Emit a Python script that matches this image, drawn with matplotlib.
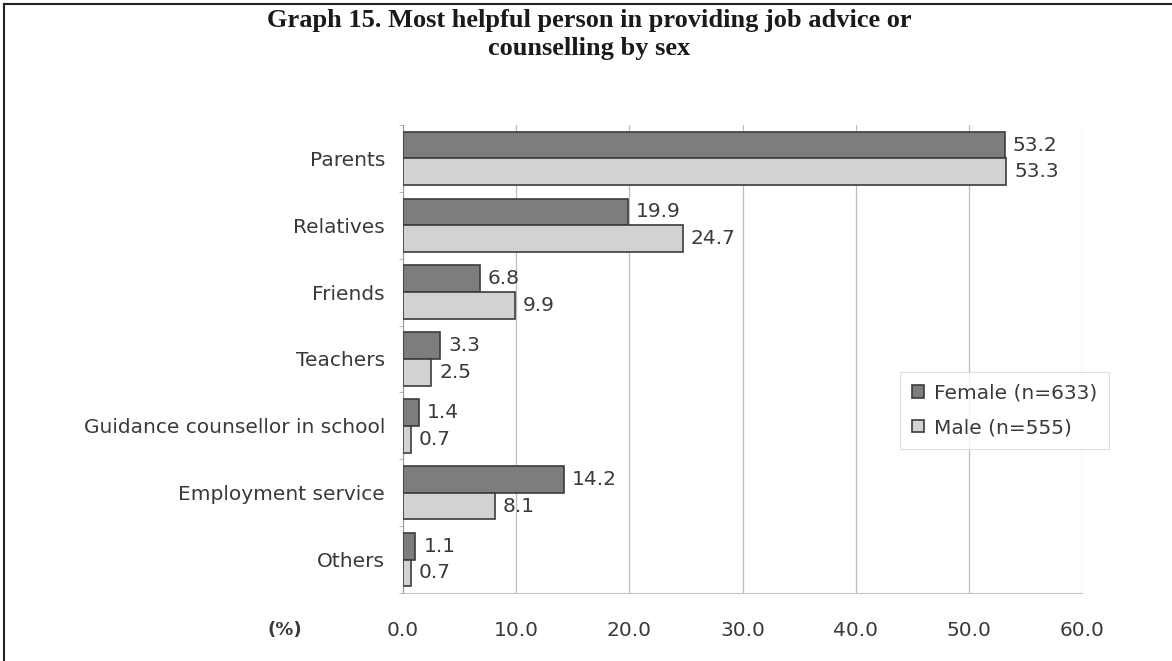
import numpy as np
import matplotlib.pyplot as plt
from matplotlib.lines import Line2D

categories = ['Parents', 'Relatives', 'Friends', 'Teachers',
              'Guidance counsellor in school', 'Employment service', 'Others']
female = [53.2, 19.9, 6.8, 3.3, 1.4, 14.2, 1.1]
male = [53.3, 24.7, 9.9, 2.5, 0.7, 8.1, 0.7]
series_names = ['Female (n=633)', 'Male (n=555)']
x_ticks = [0, 10, 20, 30, 40, 50, 60]

plt.rcParams['font.family'] = ['DejaVu Sans']
TEXT = '#3a3a3a'
FS = 14.5

fig = plt.figure(figsize=(11.72, 6.61), dpi=100)
ax = fig.add_axes([0.3439, 0.1029, 0.5793, 0.708])

y = np.arange(len(categories))
h = 0.4
b1 = ax.barh(y - h / 2, female, height=h, color='#7d7d7d', edgecolor='#3c3c3c',
             linewidth=1.2, label=series_names[0], zorder=3)
b2 = ax.barh(y + h / 2, male, height=h, color='#d2d2d2', edgecolor='#3c3c3c',
             linewidth=1.2, label=series_names[1], zorder=3)

for bars, vals in ((b1, female), (b2, male)):
    for bar, v in zip(bars, vals):
        ax.text(v + 0.7, bar.get_y() + bar.get_height() / 2, f'{v:.1f}',
                va='center', ha='left', fontsize=FS, color=TEXT)

ax.set_xlim(0, 60)
ax.set_ylim(len(categories) - 0.5, -0.5)
ax.set_xticks(x_ticks)
ax.set_xticklabels([f'{t:.1f}' for t in x_ticks], fontsize=FS, color=TEXT)
ax.set_yticks(y)
ax.set_yticklabels(categories, fontsize=FS, color=TEXT)
ax.set_yticks(np.arange(len(categories) + 1) - 0.5, minor=True)
ax.tick_params(axis='y', which='major', length=0, pad=13)
ax.tick_params(axis='y', which='minor', length=3, color='#aaaaaa')
ax.tick_params(axis='x', length=0, pad=20)

ax.grid(axis='x', color='#bdbdbd', linewidth=0.9, zorder=0)
for side in ('top', 'right'):
    ax.spines[side].set_visible(False)
ax.spines['left'].set_color('#9a9a9a')
ax.spines['bottom'].set_color('#c4c4c4')

fig.text(285 / 1172, 1 - 630 / 661, '(%)', fontsize=13, fontweight='bold',
         color=TEXT, ha='center', va='center')

leg = ax.legend(loc='upper left', bbox_to_anchor=(0.717, 0.494), fontsize=FS,
                frameon=True, fancybox=False, handlelength=0.6, handleheight=0.6,
                handletextpad=0.5, labelspacing=0.75, borderpad=0.6)
leg.get_frame().set_edgecolor('#d8d8d8')
leg.get_frame().set_linewidth(0.8)
for t in leg.get_texts():
    t.set_color(TEXT)

fig.text(0.503, 1 - 21 / 661, 'Graph 15. Most helpful person in providing job advice or',
         family='Liberation Serif', fontweight='bold', fontsize=19,
         ha='center', va='center', color='#1a1a1a')
fig.text(0.503, 1 - 48 / 661, 'counselling by sex',
         family='Liberation Serif', fontweight='bold', fontsize=19,
         ha='center', va='center', color='#1a1a1a')

# page frame on the left and top edges
fig.add_artist(Line2D([4 / 1172, 4 / 1172], [0, 1 - 4 / 661], transform=fig.transFigure,
                      color='#222222', linewidth=1.5))
fig.add_artist(Line2D([4 / 1172, 1], [1 - 4 / 661, 1 - 4 / 661], transform=fig.transFigure,
                      color='#222222', linewidth=1.5))

fig.savefig('out.png', dpi=100)
